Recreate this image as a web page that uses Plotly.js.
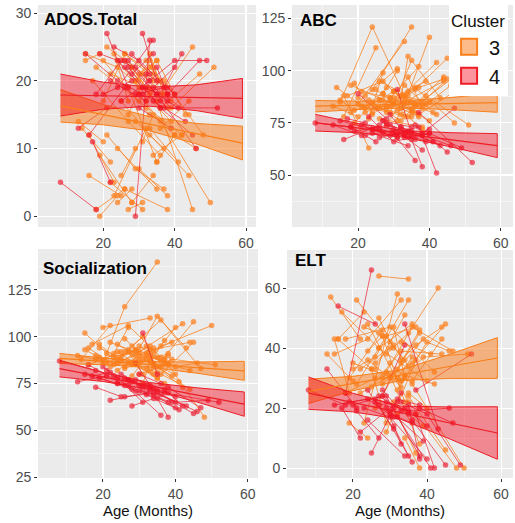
<!DOCTYPE html>
<html><head><meta charset="utf-8">
<script src="https://cdn.plot.ly/plotly-3.0.1.min.js"></script>
<style>html,body{margin:0;padding:0;background:#fff}#chart{width:515px;height:523px}</style>
</head><body><div id="chart"></div><script>
// ---- Subject trajectories (age in months per visit) ----
const orangeAges = [
[14,22],[15,24,33],[16,25],[17,27,36],[18,26],[18,30,42],[19,28],[20,33],[21,29,37],[21,34],
[22,31],[22,36,45],[23,32],[24,30,39],[24,35],[25,33,44],[26,34],[26,38],[27,33,40],[27,35],
[28,36,47],[28,34],[29,37],[29,35,43],[30,38],[30,36,50],[31,39],[31,34],[32,40,46],[32,37],
[33,41],[33,39,51],[34,42],[34,38],[35,45],[13,20],[16,23],[19,24],[23,27],[25,29],
[36,44],[37,48],[20,26,35],[15,19],[27,31],
[26,30],[28,32,38],[30,35],[32,36],[33,37,44],[35,40],[24,28],[29,33]];
const redAges = [
[8,18],[13,21],[15,24,31],[16,26],[18,25],[19,29,38],[21,27],[22,32],[23,30,40],[24,34],
[25,33],[26,35,46],[27,36],[28,34],[29,37,42],[30,39],[31,35],[32,41],[33,40,49],[34,43],
[35,38],[36,45],[20,28],[24,31],[29,33],[37,52],[17,22],[38,47],
[26,31],[28,33],[30,36],[32,38],[34,40],[27,35]];

// ---- Scores per subject ----
const adosOrange = [
[13,8],[24,22,18],[6,3],[20,14,9],[1,4],[22,17,12],[9,2],[23,15],[12,7,4],[25,20],
[5,1],[21,18,25],[3,13],[23,19,14],[10,4],[17,12,6],[24,21],[4,1],[15,22,18],[19,8],
[22,16,21],[2,6],[14,10],[20,23,15],[7,3],[18,14,2],[21,17],[11,15],[16,12,10],[23,19],
[13,8],[19,16,22],[9,12],[22,18],[17,1],[14,11],[12,5],[0,3],[24,17],[6,10],
[13,17],[20,12],[17,24,20],[23,24],[1,2],
[23,20],[22,19,16],[21,23],[17,20],[24,18,15],[8,12],[2,4],[20,23]];
const adosRed = [
[5,1],[13,16],[24,20,18],[12,19],[18,23],[24,22,17],[27,19],[20,17],[25,23,18],[19,26],
[17,20],[23,18,10],[22,16],[21,24],[18,19,24],[16,13],[27,20],[19,16],[20,23,23],[17,14],
[22,18],[16,12],[18,20],[23,19],[0,26],[16,16],[11,5],[18,23],
[22,19],[24,21],[18,17],[21,19],[19,22],[23,18]];
const abcOrange = [
[92,82],[85,121,88],[78,111],[88,95,80],[80,86],[93,84,104],[75,92],[84,114],[90,87,102],[83,78],
[88,101],[80,91,106],[86,76],[79,87,95],[91,121],[82,85,95],[95,88],[77,73],[89,84,116],[86,81],
[83,92,75],[74,90],[87,79],[80,105,87],[84,72],[90,83,101],[81,84],[76,107],[88,85,93],[82,78],
[93,80],[78,88,74],[85,79],[97,82],[80,96],[83,78],[88,63],[94,80],[77,99],[91,86],
[84,97],[79,91],[87,82,78],[86,81],[89,100],
[86,90],[82,88,84],[90,85],[79,84],[87,92,96],[81,76],[85,80],[83,88]];
const abcRed = [
[75,73],[74,69],[76,72,68],[67,74],[73,66],[71,74,62],[74,70],[69,72],[78,66,70],[70,64],
[72,69],[68,71,64],[76,57],[74,71],[69,73,51],[72,66],[91,70],[73,66],[68,70,63],[71,64],
[67,54],[74,61],[89,77],[72,68],[79,70],[80,56],[77,75],[70,82],
[72,70],[75,71],[70,67],[73,69],[68,72],[76,73]];
const socOrange = [
[88,106],[102,86,95],[85,92],[96,106,89],[90,84],[88,92,107],[94,86],[105,110],[86,93,88],[91,80],
[84,100],[97,87,108],[89,95],[82,90,97],[92,78],[87,93,97],[99,84],[83,91],[93,88,105],[86,81],
[95,109,83],[79,94],[85,75],[90,111,94],[80,85],[86,95,106],[88,79],[75,92],[91,84,86],[83,98],
[87,76],[82,88,85],[85,73],[86,90],[78,97],[90,87],[94,85],[96,88],[91,105],[89,93],
[80,72],[88,57],[86,116,140],[93,89],[92,80],
[92,88],[85,90,86],[95,89],[88,84],[90,86,82],[84,80],[96,91],[87,93]];
const socRed = [
[87,82],[76,79],[80,75,72],[85,74],[73,68],[78,71,65],[82,77],[66,70],[79,74,62],[75,69],
[80,71],[68,70,60],[74,58],[63,67],[77,72,63],[71,65],[102,80],[69,61],[72,65,66],[70,63],
[67,57],[69,59],[84,72],[78,65],[86,74],[70,65],[79,81],[73,62],
[78,74],[76,73],[80,75],[74,70],[72,68],[77,71]];
const eltOrange = [
[57,43],[38,43,56],[43,33],[52,40,48],[25,30],[43,47,32],[30,46],[35,29],[28,44,47],[56,36],
[33,41],[25,35,48],[15,58],[36,30,43],[48,22],[27,39,38],[33,51],[20,46],[40,35,29],[64,63],
[30,47,39],[44,22],[12,36],[38,45,60],[31,8],[35,28,0],[22,14],[47,30],[26,42,39],[18,5],
[42,38],[29,37,38],[31,28],[10,0],[24,6],[38,29],[43,52],[15,10],[47,45],[33,15],
[29,43],[18,0],[33,37,56],[43,25],[50,40],
[35,40],[28,33,45],[42,34],[30,37],[36,41,47],[25,20],[39,44],[32,27]];
const eltRed = [
[26,21],[33,20],[21,23,17],[54,48],[25,66],[22,24,4],[19,10],[12,22],[20,17,3],[16,4],
[5,25],[23,19,20],[21,2],[24,41],[22,18,0],[19,9],[14,4],[17,0],[22,18,1],[48,13],
[21,3],[16,1],[21,24],[26,13],[20,8],[26,38],[20,10],[20,15],
[22,20],[26,19],[18,15],[23,21],[20,14],[24,18]];

// ---- Regression fits with confidence ribbons ----
const ribbonAge = [8,20,33,46,59];
const adosOrangeFit = [16.3,15.0,13.6,12.2,10.8], adosOrangeLo = [13.9,13.5,12.6,10.7,8.3], adosOrangeHi = [18.7,16.5,14.7,13.7,13.3];
const adosRedFit = [17.9,17.8,17.65,17.5,17.4], adosRedLo = [14.8,15.8,16.25,15.6,14.45], adosRedHi = [21.0,19.8,19.05,19.4,20.35];
const abcOrangeFit = [83,83.4,83.85,84.25,84.7], abcOrangeLo = [80.25,81.4,82.15,81.35,80.1], abcOrangeHi = [85.75,85.4,85.55,87.15,89.3];
const abcRedFit = [75.1,72.5,69.7,66.9,64.1], abcRedLo = [71.1,70.3,68.1,63.5,58.35], abcRedHi = [79.1,74.7,71.3,70.3,69.85];
const socOrangeFit = [88.4,86.85,85.2,83.5,81.8], socOrangeLo = [85.7,85.05,83.7,80.5,76.7], socOrangeHi = [91.1,88.65,86.7,86.5,86.9];
const socRedFit = [83,78.5,73.7,68.9,64], socRedLo = [78.55,76.1,71.9,65.1,57.5], socRedHi = [87.45,80.9,75.5,72.7,70.5];
const eltOrangeFit = [25.6,28.2,31.0,33.9,36.7], eltOrangeLo = [21.55,25.8,29.2,29.9,29.9], eltOrangeHi = [29.65,30.6,32.8,37.9,43.5];
const eltRedFit = [25,21.85,18.45,15.1,11.7], eltRedLo = [19.6,18.75,16.25,9.8,2.95], eltRedHi = [30.4,24.95,20.65,20.4,20.45];

const panelTitles = ['ADOS.Total','ABC','Socialization','ELT'];
const clusterNames = ['3','4'];

// ---- styles ----
const ORANGE = '#F97F1B', RED = '#EE1C25';
const ORANGE_PT = 'rgba(252,128,30,0.72)', RED_PT = 'rgba(238,30,50,0.68)';
const ORANGE_LN = 'rgba(250,125,25,0.75)', RED_LN = 'rgba(235,30,45,0.7)';
const ORANGE_FILL = 'rgba(250,120,20,0.5)', RED_FILL = 'rgba(245,0,20,0.42)';

function flatten(ages, vals){
  const x=[], y=[];
  ages.forEach((a,i)=>{ a.forEach((v,j)=>{ x.push(v); y.push(vals[i][j]); }); x.push(null); y.push(null); });
  return {x,y};
}
const panels = [
  {xa:'x', ya:'y', o:adosOrange, r:adosRed, of:[adosOrangeFit,adosOrangeLo,adosOrangeHi], rf:[adosRedFit,adosRedLo,adosRedHi]},
  {xa:'x2', ya:'y2', o:abcOrange, r:abcRed, of:[abcOrangeFit,abcOrangeLo,abcOrangeHi], rf:[abcRedFit,abcRedLo,abcRedHi]},
  {xa:'x3', ya:'y3', o:socOrange, r:socRed, of:[socOrangeFit,socOrangeLo,socOrangeHi], rf:[socRedFit,socRedLo,socRedHi]},
  {xa:'x4', ya:'y4', o:eltOrange, r:eltRed, of:[eltOrangeFit,eltOrangeLo,eltOrangeHi], rf:[eltRedFit,eltRedLo,eltRedHi]}
];
const traces = [];
panels.forEach(p=>{
  const fo = flatten(orangeAges, p.o), fr = flatten(redAges, p.r);
  traces.push({x:fo.x, y:fo.y, xaxis:p.xa, yaxis:p.ya, mode:'lines+markers', showlegend:false, hoverinfo:'skip',
    line:{color:ORANGE_LN, width:1}, marker:{color:ORANGE_PT, size:5.5}});
  traces.push({x:fr.x, y:fr.y, xaxis:p.xa, yaxis:p.ya, mode:'lines+markers', showlegend:false, hoverinfo:'skip',
    line:{color:RED_LN, width:1}, marker:{color:RED_PT, size:5.5}});
  [[p.of, ORANGE, ORANGE_FILL],[p.rf, RED, RED_FILL]].forEach(([f,c,fc])=>{
    traces.push({x:ribbonAge.concat(ribbonAge.slice().reverse()), y:f[2].concat(f[1].slice().reverse()),
      xaxis:p.xa, yaxis:p.ya, mode:'lines', fill:'toself', fillcolor:fc, line:{color:c, width:1}, showlegend:false, hoverinfo:'skip'});
  });
  [[p.of, ORANGE],[p.rf, RED]].forEach(([f,c])=>{
    traces.push({x:ribbonAge, y:f[0], xaxis:p.xa, yaxis:p.ya, mode:'lines', line:{color:c, width:1.2}, showlegend:false, hoverinfo:'skip'});
  });
});
// legend entries
[[clusterNames[0], ORANGE, ORANGE_FILL],[clusterNames[1], RED, RED_FILL]].forEach(([n,c,fc])=>{
  traces.push({x:[null], y:[null], xaxis:'x2', yaxis:'y2', mode:'markers', name:n,
    marker:{symbol:'square', size:16, color:fc, line:{color:c, width:2}}});
});

const FONT = 'Liberation Sans, Arial, sans-serif';
function ax(extra){
  return Object.assign({showgrid:true, gridcolor:'#ffffff', gridwidth:1.1, zeroline:false, showline:false,
    ticks:'outside', ticklen:3, tickcolor:'#333333', tickwidth:1, fixedrange:true,
    tickfont:{family:FONT, size:14, color:'#4d4d4d'}}, extra);
}
function xax(domain, range, anchor, withTitle){
  const o = ax({domain, range, anchor, tick0:0, dtick:20, minor:{dtick:10, showgrid:true, gridcolor:'#ffffff', gridwidth:0.5}});
  if(withTitle) o.title = {text:'Age (Months)', font:{family:FONT, size:15, color:'#111'}, standoff:3};
  return o;
}
function yax(domain, range, anchor, dtick){
  return ax({domain, range, anchor, tick0:0, dtick, minor:{dtick:dtick/2, showgrid:true, gridcolor:'#ffffff', gridwidth:0.5}});
}
const layout = {
  width:515, height:523, margin:{l:0,r:0,t:0,b:0},
  paper_bgcolor:'#ffffff', plot_bgcolor:'#EBEBEB',
  xaxis: xax([0.0738,0.4971],[1.7,62.8],'y',false),
  yaxis: yax([0.566,0.9904],[-1.6,31.2],'x',10),
  xaxis2: xax([0.567,0.996],[1.5,63.4],'y2',false),
  yaxis2: yax([0.566,0.9904],[25.1,131.5],'x2',25),
  xaxis3: xax([0.0738,0.501],[2.07,62.8],'y3',true),
  yaxis3: yax([0.086,0.5239],[24.5,146.9],'x3',25),
  xaxis4: xax([0.5573,0.996],[2.2,63.2],'y4',true),
  yaxis4: yax([0.086,0.522],[-3.3,72.7],'x4',20),
  showlegend:true,
  legend:{x:0.872, y:0.99, xanchor:'left', yanchor:'top', bgcolor:'#ffffff', borderwidth:0,
    font:{family:FONT, size:20, color:'#111'}, title:{text:'Cluster', font:{family:FONT, size:17, color:'#111'}},
    itemsizing:'trace', tracegroupgap:0, itemwidth:30},
  annotations:[
    {text:'<b>'+panelTitles[0]+'</b>', x:0.0816, y:0.9618},
    {text:'<b>'+panelTitles[1]+'</b>', x:0.5786, y:0.960},
    {text:'<b>'+panelTitles[2]+'</b>', x:0.0796, y:0.4857},
    {text:'<b>'+panelTitles[3]+'</b>', x:0.569, y:0.501}
  ].map(a=>Object.assign(a,{xref:'paper', yref:'paper', xanchor:'left', yanchor:'middle', showarrow:false,
    font:{family:FONT, size:17, color:'#000'}}))
};
Plotly.newPlot('chart', traces, layout, {displayModeBar:false, staticPlot:true});
</script></body></html>
